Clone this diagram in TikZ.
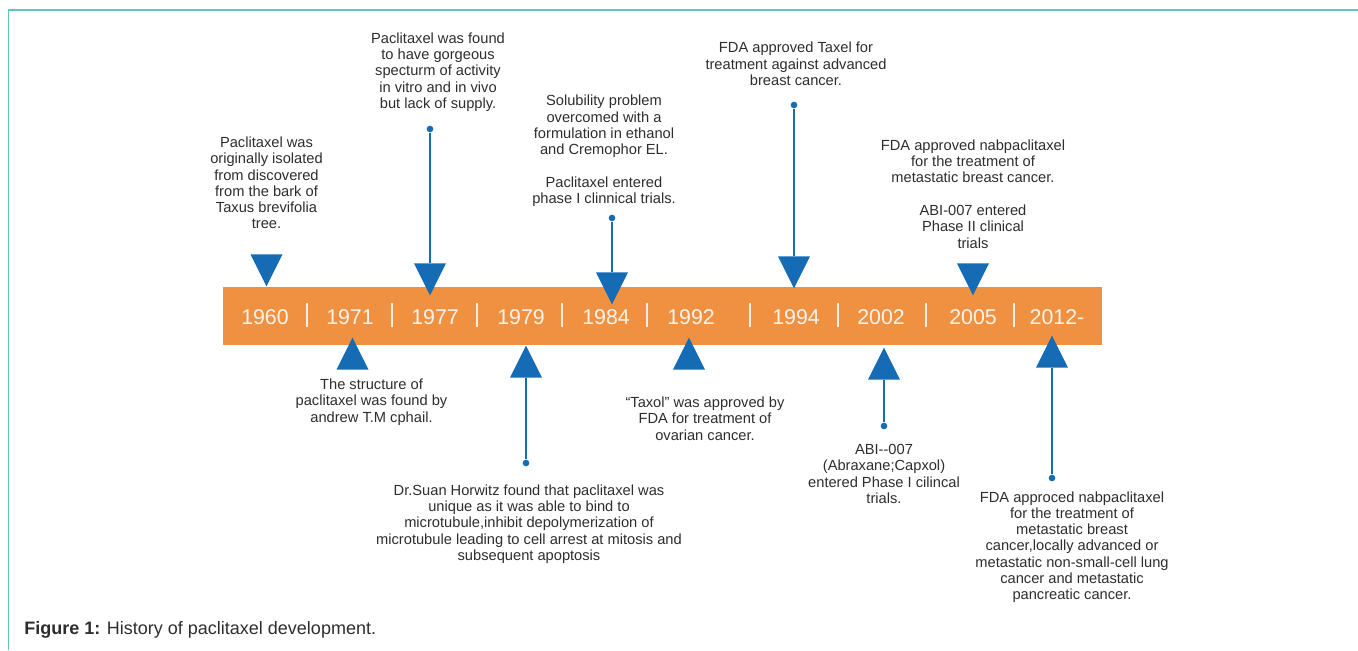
\documentclass[tikz,border=0pt]{standalone}
\usepackage{fontspec}
\setmainfont{Liberation Sans}
\usetikzlibrary{shapes.geometric}
\definecolor{barorange}{RGB}{240,145,66}
\definecolor{markblue}{RGB}{22,108,180}
\definecolor{notegray}{RGB}{45,45,45}
\definecolor{frameteal}{RGB}{95,200,180}
\begin{document}
\begin{tikzpicture}[
            x=0.75pt, y=-0.75pt,
            year/.style={text=white!90!barorange, font=\fontsize{16}{18}\selectfont, inner sep=0pt},
            sep/.style={draw=white!85!barorange, line width=1.2pt},
            note/.style={align=center, text=notegray, font=\fontsize{11}{12.2}\selectfont, inner sep=0pt},
            downtri/.style={isosceles triangle, isosceles triangle stretches, shape border rotate=270,
                            minimum width=24pt, minimum height=24pt, inner sep=0pt, fill=markblue, anchor=apex},
            uptri/.style={downtri, shape border rotate=90},
            dot/.style={circle, fill=markblue, minimum size=5pt, inner sep=0pt},
            stem/.style={draw=markblue, line width=1.5pt}
            ]
            \useasboundingbox (0,0) rectangle (1358,650);
            % frame
            \draw[frameteal, line width=1.3pt] (1358,10) -- (8.5,10) -- (8.5,650);
            % the bar
            \node (bar) [fill=barorange, minimum width=659pt, minimum height=43.5pt, inner sep=0pt] at (662.5,316) {};
            \foreach \nm/\yx/\lab in {1960/265/1960, 1971/350/1971, 1977/435/1977, 1979/521/1979, 1984/606/1984,
                                      1992/691/1992, 1994/796/1994, 2002/881/2002, 2005/973/2005, 2012/1057/2012-}
              \node[year] (y\nm) at (\yx,317) {\lab};
            \foreach \sx in {307,392,477,562,647,750,838,926,1014}
              \draw[sep] (\sx,303) -- (\sx,327);
            % markers above the bar
            \node[downtri] (t1960) at (266.5,287) {};
            \node[downtri] (t1977) at (430,296) {};
            \node[downtri] (t1984) at (612,305) {};
            \node[downtri] (t1994) at (794,289) {};
            \node[downtri] (t2005) at (973,296) {};
            \node[dot] (d1977) at (430,129) {};
            \node[dot] (d1984) at (612,218) {};
            \node[dot] (d1994) at (794,105) {};
            \draw[stem] (d1977) -- (t1977);
            \draw[stem] (d1984) -- (t1984);
            \draw[stem] (d1994) -- (t1994);
            % markers below the bar
            \node[uptri] (t1971) at (352.5,337) {};
            \node[uptri] (t1979) at (526,345) {};
            \node[uptri] (t1992) at (689,337) {};
            \node[uptri] (t2002) at (884,347) {};
            \node[uptri] (t2012) at (1052,335) {};
            \node[dot] (d1979) at (526,463) {};
            \node[dot] (d2002) at (884,426) {};
            \node[dot] (d2012) at (1052,478) {};
            \draw[stem] (d1979) -- (t1979);
            \draw[stem] (d2002) -- (t2002);
            \draw[stem] (d2012) -- (t2012);
            % notes
            \node[note] (n1960) at (266.5,183) {Paclitaxel was\\originally isolated\\from discovered\\from the bark of\\Taxus brevifolia\\tree.};
            \node[note] (n1977) at (438,72) {Paclitaxel was found\\to have gorgeous\\specturm of activity\\in vitro and in vivo\\but lack of supply.};
            \node[note] (n1984) at (604,151) {Solubility problem\\overcomed with a\\formulation in ethanol\\and Cremophor EL.\\[12.2pt]Paclitaxel entered\\phase I clinnical trials.};
            \node[note] (n1994) at (796,64) {FDA approved Taxel for\\treatment against advanced\\breast cancer.};
            \node[note] (n2005) at (973,194) {FDA approved nabpaclitaxel\\for the treatment of\\metastatic breast cancer.\\[12.2pt]ABI-007 entered\\Phase II clinical\\trials};
            \node[note] (n1971) at (371.5,402) {The structure of\\paclitaxel was found by\\andrew T.M cphail.};
            \node[note] (n1979) at (529,524) {Dr.Suan Horwitz found that paclitaxel was\\unique as it was able to bind to\\microtubule,inhibit depolymerization of\\microtubule leading to cell arrest at mitosis and\\subsequent apoptosis};
            \node[note] (n1992) at (705,418.5) {“Taxol” was approved by\\FDA for treatment of\\ovarian cancer.};
            \node[note] (n2002) at (884,474) {ABI-{}-007\\(Abraxane;Capxol)\\entered Phase I cilincal\\trials.};
            \node[note] (n2012) at (1072,547) {FDA approced nabpaclitaxel\\for the treatment of\\metastatic breast\\cancer,locally advanced or\\metastatic non-small-cell lung\\cancer and metastatic\\pancreatic cancer.};
            % caption
            \node[anchor=west, inner sep=0pt, text=notegray, font=\fontsize{13.5}{15}\selectfont] (caption) at (24,630)
              {\textbf{Figure 1:} History of paclitaxel development.};
        \end{tikzpicture}
\end{document}
